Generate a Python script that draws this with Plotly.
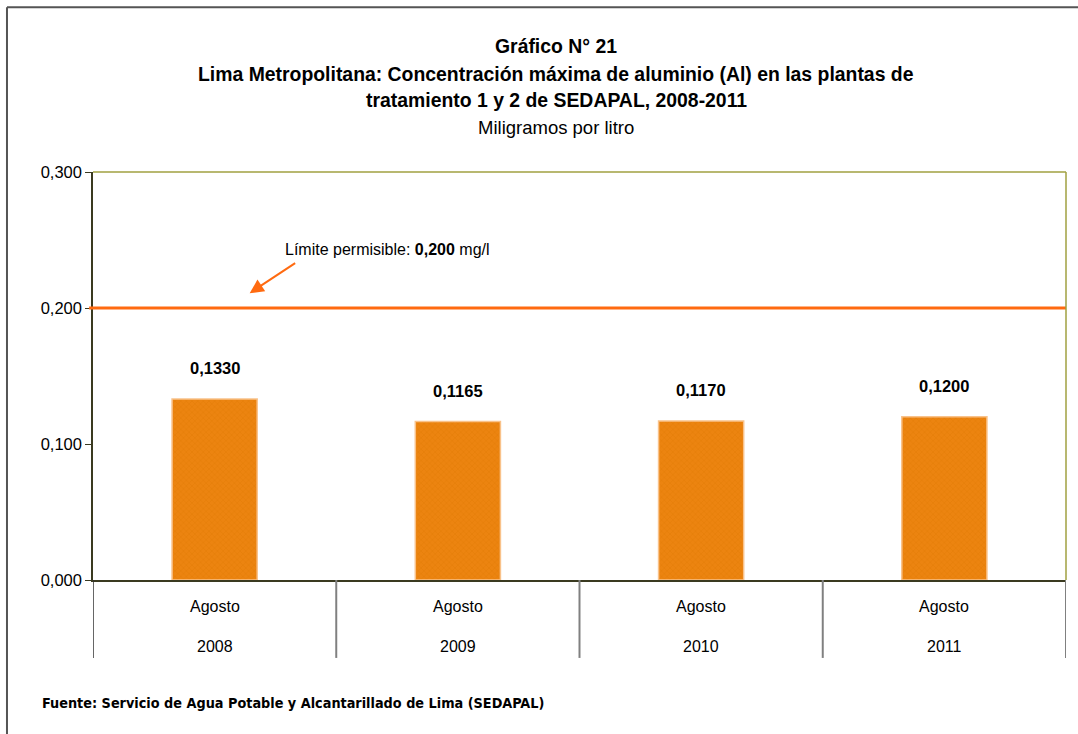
import plotly.graph_objects as go

years = ["2008", "2009", "2010", "2011"]
months = ["Agosto", "Agosto", "Agosto", "Agosto"]
values = [0.1330, 0.1165, 0.1170, 0.1200]
limit_value = 0.200
y_ticks = [0.0, 0.1, 0.2, 0.3]

FONT = "Liberation Sans, Arial, sans-serif"
NARROW = "DejaVu Sans Condensed, sans-serif"

fig = go.Figure()
fig.add_trace(go.Bar(
    x=list(range(len(years))), y=values,
    marker=dict(color="#EC8410", line=dict(color="#F9C28A", width=1.5),
                pattern=dict(shape="x", fgcolor="#D97400", size=4, solidity=0.25, fillmode="overlay")),
    width=0.35, hoverinfo="skip",
))

annotations = []
def fmt(v, d):
    return f"{v:.{d}f}".replace(".", ",")

for i, v in enumerate(values):
    annotations.append(dict(x=i, y=v, xref="x", yref="y", text=f"<b>{fmt(v, 4)}</b>",
                            showarrow=False, yshift=31, yanchor="middle", xanchor="center",
                            font=dict(size=16.5, color="#000", family=FONT)))
    annotations.append(dict(x=i, y=-0.066, xref="x", yref="paper", text=months[i],
                            showarrow=False, yanchor="middle", xanchor="center",
                            font=dict(size=16, color="#000", family=FONT)))
    annotations.append(dict(x=i, y=-0.164, xref="x", yref="paper", text=years[i],
                            showarrow=False, yanchor="middle", xanchor="center",
                            font=dict(size=16, color="#000", family=FONT)))

title_lines = [
    ("<b>Gráfico N° 21</b>", 1.309, 19.4),
    ("<b>Lima Metropolitana: Concentración máxima de aluminio (Al) en las plantas de</b>", 1.240, 19.4),
    ("<b>tratamiento 1 y 2 de SEDAPAL, 2008-2011</b>", 1.176, 19.4),
    ("Miligramos por litro", 1.110, 18.5),
]
for t, yy, sz in title_lines:
    annotations.append(dict(x=0.476, y=yy, xref="paper", yref="paper", text=t, showarrow=False,
                            yanchor="middle", xanchor="center",
                            font=dict(size=sz, color="#000", family=FONT)))

annotations.append(dict(x=0.303, y=0.809, xref="paper", yref="paper",
                        text=f"Límite permisible: <b>{fmt(limit_value, 3)}</b> mg/l", showarrow=False,
                        yanchor="middle", xanchor="center",
                        font=dict(size=16, color="#000", family=FONT)))
annotations.append(dict(x=0.161, y=0.703, xref="paper", yref="paper", text="", showarrow=True,
                        ax=47, ay=-31, arrowcolor="#FF6A10", arrowwidth=2, arrowhead=2, arrowsize=1.4))
annotations.append(dict(x=-0.0545, y=-0.301, xref="paper", yref="paper", xanchor="left", yanchor="middle",
                        text="<b>Fuente: Servicio de Agua Potable y Alcantarillado de Lima (SEDAPAL)</b>",
                        showarrow=False, font=dict(size=14.3, color="#000", family=NARROW)))

shapes = []
shapes.append(dict(type="line", xref="paper", yref="y", x0=-0.004, x1=1, y0=limit_value, y1=limit_value,
                   line=dict(color="#FF6A10", width=3), layer="above"))
for b in [0.5, 1.5, 2.5, 3.5]:
    shapes.append(dict(type="line", xref="x", yref="paper", x0=b, x1=b, y0=0, y1=-0.191,
                       line=dict(color="#808080", width=2)))
shapes.append(dict(type="line", xref="x", yref="paper", x0=-0.5, x1=-0.5, y0=0, y1=-0.191,
                   line=dict(color="#333333", width=1.5)))
shapes.append(dict(type="line", xref="paper", yref="paper", x0=0, x1=1, y0=1, y1=1,
                   line=dict(color="#A0A040", width=1.5)))
shapes.append(dict(type="line", xref="paper", yref="paper", x0=1, x1=1, y0=0, y1=1,
                   line=dict(color="#A0A040", width=1.5)))
shapes.append(dict(type="line", xref="paper", yref="paper", x0=-0.0884, x1=1.02, y0=1.404, y1=1.404,
                   line=dict(color="#555555", width=2)))
shapes.append(dict(type="line", xref="paper", yref="paper", x0=-0.0884, x1=-0.0884, y0=1.404, y1=-0.4,
                   line=dict(color="#555555", width=2)))

fig.update_layout(
    width=1078, height=734,
    margin=dict(l=93, r=12, t=172, b=154),
    paper_bgcolor="white", plot_bgcolor="white",
    showlegend=False,
    separators=",.",
    font=dict(family=FONT, color="#000"),
    xaxis=dict(range=[-0.5, 3.5], showticklabels=False, showgrid=False, zeroline=False,
               showline=True, linecolor="#3A3A20", linewidth=1.5, ticks=""),
    yaxis=dict(range=[0, 0.3], tickvals=y_ticks, tickformat=".3f", showgrid=False, zeroline=False,
               showline=True, linecolor="#3A3A20", linewidth=1.5, ticks="outside", ticklen=6,
               tickcolor="#3A3A20", tickfont=dict(size=16.5, color="#000", family=FONT)),
    annotations=annotations,
    shapes=shapes,
)

fig.write_html("out.html")
